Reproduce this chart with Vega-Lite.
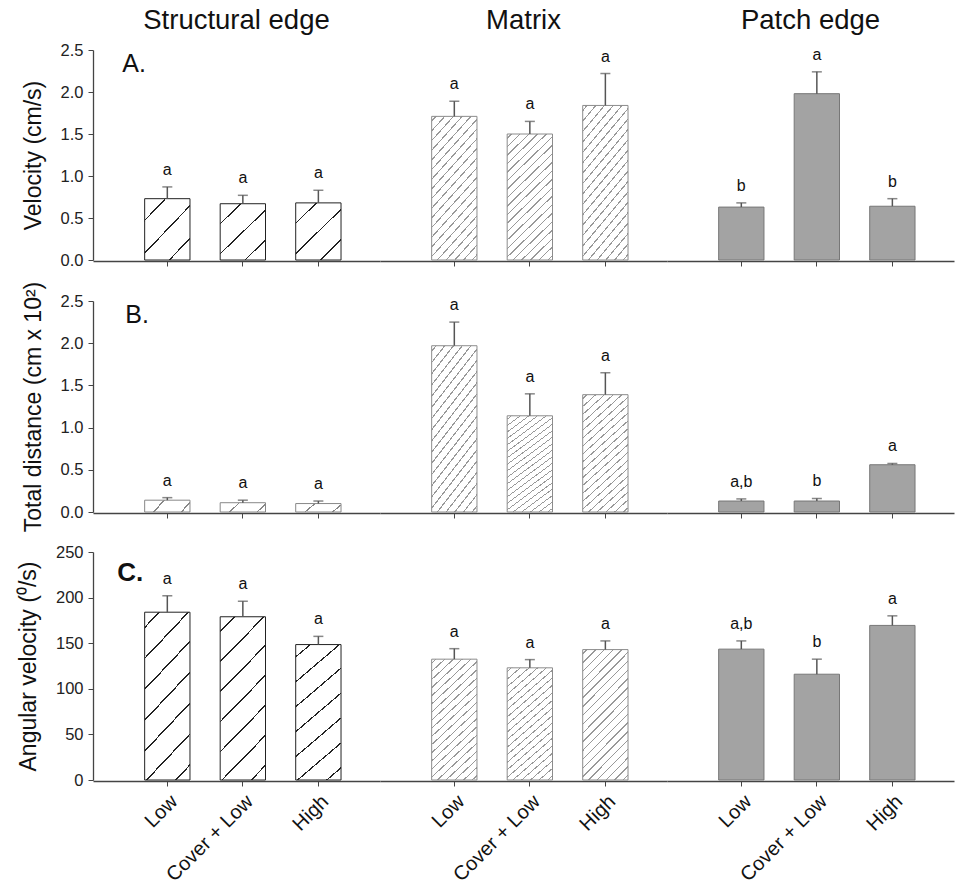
{
  "$schema": "https://vega.github.io/schema/vega-lite/v6.json",
  "padding": {"left": 17, "right": 4, "top": 6, "bottom": 2},
  "config": {
    "font": "Liberation Sans",
    "view": {"stroke": null},
    "axis": {"grid": false, "domainColor": "#444", "domainWidth": 1.3, "tickColor": "#444", "labelColor": "#222", "labelFontSize": 16.5, "titleFontSize": 23, "titleFontWeight": "normal", "titleColor": "#111", "labelPadding": 5, "tickSize": 5, "titlePadding": 15},
    "text": {"font": "Liberation Sans"}
  },
  "datasets": {
    "d": [
      {"panel": "A", "group": "Structural edge", "treatment": "Low", "mean": 0.73, "upper": 0.87, "sig": "a"},
      {"panel": "A", "group": "Structural edge", "treatment": "Cover + Low", "mean": 0.67, "upper": 0.77, "sig": "a"},
      {"panel": "A", "group": "Structural edge", "treatment": "High", "mean": 0.68, "upper": 0.83, "sig": "a"},
      {"panel": "A", "group": "Matrix", "treatment": "Low", "mean": 1.71, "upper": 1.89, "sig": "a"},
      {"panel": "A", "group": "Matrix", "treatment": "Cover + Low", "mean": 1.5, "upper": 1.65, "sig": "a"},
      {"panel": "A", "group": "Matrix", "treatment": "High", "mean": 1.84, "upper": 2.22, "sig": "a"},
      {"panel": "A", "group": "Patch edge", "treatment": "Low", "mean": 0.63, "upper": 0.68, "sig": "b"},
      {"panel": "A", "group": "Patch edge", "treatment": "Cover + Low", "mean": 1.98, "upper": 2.24, "sig": "a"},
      {"panel": "A", "group": "Patch edge", "treatment": "High", "mean": 0.64, "upper": 0.73, "sig": "b"},
      {"panel": "B", "group": "Structural edge", "treatment": "Low", "mean": 0.14, "upper": 0.17, "sig": "a"},
      {"panel": "B", "group": "Structural edge", "treatment": "Cover + Low", "mean": 0.11, "upper": 0.14, "sig": "a"},
      {"panel": "B", "group": "Structural edge", "treatment": "High", "mean": 0.1, "upper": 0.13, "sig": "a"},
      {"panel": "B", "group": "Matrix", "treatment": "Low", "mean": 1.97, "upper": 2.25, "sig": "a"},
      {"panel": "B", "group": "Matrix", "treatment": "Cover + Low", "mean": 1.14, "upper": 1.4, "sig": "a"},
      {"panel": "B", "group": "Matrix", "treatment": "High", "mean": 1.39, "upper": 1.65, "sig": "a"},
      {"panel": "B", "group": "Patch edge", "treatment": "Low", "mean": 0.13, "upper": 0.155, "sig": "a,b"},
      {"panel": "B", "group": "Patch edge", "treatment": "Cover + Low", "mean": 0.13, "upper": 0.16, "sig": "b"},
      {"panel": "B", "group": "Patch edge", "treatment": "High", "mean": 0.56, "upper": 0.575, "sig": "a"},
      {"panel": "C", "group": "Structural edge", "treatment": "Low", "mean": 184, "upper": 202, "sig": "a"},
      {"panel": "C", "group": "Structural edge", "treatment": "Cover + Low", "mean": 179, "upper": 196, "sig": "a"},
      {"panel": "C", "group": "Structural edge", "treatment": "High", "mean": 148.5, "upper": 157.5, "sig": "a"},
      {"panel": "C", "group": "Matrix", "treatment": "Low", "mean": 132.5, "upper": 144, "sig": "a"},
      {"panel": "C", "group": "Matrix", "treatment": "Cover + Low", "mean": 123, "upper": 132, "sig": "a"},
      {"panel": "C", "group": "Matrix", "treatment": "High", "mean": 143, "upper": 152.5, "sig": "a"},
      {"panel": "C", "group": "Patch edge", "treatment": "Low", "mean": 143.5, "upper": 152.5, "sig": "a,b"},
      {"panel": "C", "group": "Patch edge", "treatment": "Cover + Low", "mean": 116, "upper": 132.5, "sig": "b"},
      {"panel": "C", "group": "Patch edge", "treatment": "High", "mean": 169.5, "upper": 180, "sig": "a"}
    ]
  },
  "spacing": 12,
  "vconcat": [
    {
      "data": {"name": "d"},
      "transform": [{"filter": "datum.panel === 'A'"}],
      "facet": {"column": {"field": "group", "type": "nominal", "sort": ["Structural edge", "Matrix", "Patch edge"], "header": {"title": null, "labelFontSize": 27.5, "labelPadding": 12, "labelColor": "#111", "labelFont": "Liberation Sans"}}},
      "spacing": 0,
      "spec": {
        "width": 287,
        "height": 210,
        "encoding": {
          "x": {"field": "treatment", "type": "nominal", "sort": ["Low", "Cover + Low", "High"], "scale": {"paddingInner": 0.4, "paddingOuter": 0.6, "align": 0.57}, "axis": {"title": null, "labels": false}},
          "y": {"field": "mean", "type": "quantitative", "title": "Velocity (cm/s)", "scale": {"domain": [0, 2.5]}, "axis": {"values": [0, 0.5, 1, 1.5, 2, 2.5], "format": ".1f"}}
        },
        "layer": [
          {"transform": [{"filter": "datum.group === 'Structural edge'"}], "mark": {"type": "bar", "stroke": "#222", "strokeWidth": 1, "fill": {"gradient": "linear", "x1": 0, "y1": 0, "x2": 0.86, "y2": 1.11, "stops": [{"offset": 0, "color": "#fff"}, {"offset": 0.192, "color": "#fff"}, {"offset": 0.192, "color": "#222"}, {"offset": 0.208, "color": "#222"}, {"offset": 0.208, "color": "#fff"}, {"offset": 0.492, "color": "#fff"}, {"offset": 0.492, "color": "#222"}, {"offset": 0.508, "color": "#222"}, {"offset": 0.508, "color": "#fff"}, {"offset": 0.792, "color": "#fff"}, {"offset": 0.792, "color": "#222"}, {"offset": 0.808, "color": "#222"}, {"offset": 0.808, "color": "#fff"}, {"offset": 1, "color": "#fff"}]}}},
          {"transform": [{"filter": "datum.group === 'Matrix'"}], "mark": {"type": "bar", "stroke": "#8c8c8c", "strokeWidth": 1, "fill": {"gradient": "linear", "x1": 0, "y1": 0, "x2": 0.42, "y2": 1.2, "stops": [{"offset": 0, "color": "#fff"}, {"offset": 0.021, "color": "#fff"}, {"offset": 0.021, "color": "#999"}, {"offset": 0.029, "color": "#999"}, {"offset": 0.029, "color": "#fff"}, {"offset": 0.071, "color": "#fff"}, {"offset": 0.071, "color": "#999"}, {"offset": 0.079, "color": "#999"}, {"offset": 0.079, "color": "#fff"}, {"offset": 0.121, "color": "#fff"}, {"offset": 0.121, "color": "#999"}, {"offset": 0.129, "color": "#999"}, {"offset": 0.129, "color": "#fff"}, {"offset": 0.171, "color": "#fff"}, {"offset": 0.171, "color": "#999"}, {"offset": 0.179, "color": "#999"}, {"offset": 0.179, "color": "#fff"}, {"offset": 0.221, "color": "#fff"}, {"offset": 0.221, "color": "#999"}, {"offset": 0.229, "color": "#999"}, {"offset": 0.229, "color": "#fff"}, {"offset": 0.271, "color": "#fff"}, {"offset": 0.271, "color": "#999"}, {"offset": 0.279, "color": "#999"}, {"offset": 0.279, "color": "#fff"}, {"offset": 0.321, "color": "#fff"}, {"offset": 0.321, "color": "#999"}, {"offset": 0.329, "color": "#999"}, {"offset": 0.329, "color": "#fff"}, {"offset": 0.371, "color": "#fff"}, {"offset": 0.371, "color": "#999"}, {"offset": 0.379, "color": "#999"}, {"offset": 0.379, "color": "#fff"}, {"offset": 0.421, "color": "#fff"}, {"offset": 0.421, "color": "#999"}, {"offset": 0.429, "color": "#999"}, {"offset": 0.429, "color": "#fff"}, {"offset": 0.471, "color": "#fff"}, {"offset": 0.471, "color": "#999"}, {"offset": 0.479, "color": "#999"}, {"offset": 0.479, "color": "#fff"}, {"offset": 0.521, "color": "#fff"}, {"offset": 0.521, "color": "#999"}, {"offset": 0.529, "color": "#999"}, {"offset": 0.529, "color": "#fff"}, {"offset": 0.571, "color": "#fff"}, {"offset": 0.571, "color": "#999"}, {"offset": 0.579, "color": "#999"}, {"offset": 0.579, "color": "#fff"}, {"offset": 0.621, "color": "#fff"}, {"offset": 0.621, "color": "#999"}, {"offset": 0.629, "color": "#999"}, {"offset": 0.629, "color": "#fff"}, {"offset": 0.671, "color": "#fff"}, {"offset": 0.671, "color": "#999"}, {"offset": 0.679, "color": "#999"}, {"offset": 0.679, "color": "#fff"}, {"offset": 0.721, "color": "#fff"}, {"offset": 0.721, "color": "#999"}, {"offset": 0.729, "color": "#999"}, {"offset": 0.729, "color": "#fff"}, {"offset": 0.771, "color": "#fff"}, {"offset": 0.771, "color": "#999"}, {"offset": 0.779, "color": "#999"}, {"offset": 0.779, "color": "#fff"}, {"offset": 0.821, "color": "#fff"}, {"offset": 0.821, "color": "#999"}, {"offset": 0.829, "color": "#999"}, {"offset": 0.829, "color": "#fff"}, {"offset": 0.871, "color": "#fff"}, {"offset": 0.871, "color": "#999"}, {"offset": 0.879, "color": "#999"}, {"offset": 0.879, "color": "#fff"}, {"offset": 0.921, "color": "#fff"}, {"offset": 0.921, "color": "#999"}, {"offset": 0.929, "color": "#999"}, {"offset": 0.929, "color": "#fff"}, {"offset": 0.971, "color": "#fff"}, {"offset": 0.971, "color": "#999"}, {"offset": 0.979, "color": "#999"}, {"offset": 0.979, "color": "#fff"}, {"offset": 1, "color": "#fff"}]}}},
          {"transform": [{"filter": "datum.group === 'Patch edge'"}], "mark": {"type": "bar", "fill": "#a3a3a3", "stroke": "#777", "strokeWidth": 1}},
          {"mark": {"type": "rule", "color": "#555", "strokeWidth": 1.5}, "encoding": {"y2": {"field": "upper"}}},
          {"mark": {"type": "tick", "color": "#555", "size": 10, "thickness": 1.5}, "encoding": {"y": {"field": "upper", "type": "quantitative", "title": "Velocity (cm/s)"}}},
          {"mark": {"type": "text", "baseline": "alphabetic", "dy": -12, "fontSize": 16, "color": "#111"}, "encoding": {"y": {"field": "upper", "type": "quantitative", "title": "Velocity (cm/s)"}, "text": {"field": "sig"}}},
          {"transform": [{"filter": "datum.group === 'Structural edge' && datum.treatment === 'Low'"}], "mark": {"type": "text", "text": "A.", "align": "left", "baseline": "top", "dx": -45, "dy": 2, "fontSize": 25, "color": "#111"}, "encoding": {"y": {"datum": 2.5, "title": "Velocity (cm/s)"}}}
        ]
      }
    },
    {
      "data": {"name": "d"},
      "transform": [{"filter": "datum.panel === 'B'"}],
      "facet": {"column": {"field": "group", "type": "nominal", "sort": ["Structural edge", "Matrix", "Patch edge"], "header": {"title": null, "labels": false}}},
      "spacing": 0,
      "spec": {
        "width": 287,
        "height": 211,
        "encoding": {
          "x": {"field": "treatment", "type": "nominal", "sort": ["Low", "Cover + Low", "High"], "scale": {"paddingInner": 0.4, "paddingOuter": 0.6, "align": 0.57}, "axis": {"title": null, "labels": false}},
          "y": {"field": "mean", "type": "quantitative", "title": "Total distance (cm x 10²)", "scale": {"domain": [0, 2.5]}, "axis": {"values": [0, 0.5, 1, 1.5, 2, 2.5], "format": ".1f"}}
        },
        "layer": [
          {"transform": [{"filter": "datum.group === 'Structural edge'"}], "mark": {"type": "bar", "stroke": "#888", "strokeWidth": 1, "fill": {"gradient": "linear", "x1": 0, "y1": 0, "x2": 1.16, "y2": 0.26, "stops": [{"offset": 0, "color": "#fff"}, {"offset": 0.335, "color": "#fff"}, {"offset": 0.335, "color": "#888"}, {"offset": 0.365, "color": "#888"}, {"offset": 0.365, "color": "#fff"}, {"offset": 0.835, "color": "#fff"}, {"offset": 0.835, "color": "#888"}, {"offset": 0.865, "color": "#888"}, {"offset": 0.865, "color": "#fff"}, {"offset": 1, "color": "#fff"}]}}},
          {"transform": [{"filter": "datum.group === 'Matrix'"}], "mark": {"type": "bar", "stroke": "#8c8c8c", "strokeWidth": 1, "fill": {"gradient": "linear", "x1": 0, "y1": 0, "x2": 0.42, "y2": 1.2, "stops": [{"offset": 0, "color": "#fff"}, {"offset": 0.021, "color": "#fff"}, {"offset": 0.021, "color": "#999"}, {"offset": 0.029, "color": "#999"}, {"offset": 0.029, "color": "#fff"}, {"offset": 0.071, "color": "#fff"}, {"offset": 0.071, "color": "#999"}, {"offset": 0.079, "color": "#999"}, {"offset": 0.079, "color": "#fff"}, {"offset": 0.121, "color": "#fff"}, {"offset": 0.121, "color": "#999"}, {"offset": 0.129, "color": "#999"}, {"offset": 0.129, "color": "#fff"}, {"offset": 0.171, "color": "#fff"}, {"offset": 0.171, "color": "#999"}, {"offset": 0.179, "color": "#999"}, {"offset": 0.179, "color": "#fff"}, {"offset": 0.221, "color": "#fff"}, {"offset": 0.221, "color": "#999"}, {"offset": 0.229, "color": "#999"}, {"offset": 0.229, "color": "#fff"}, {"offset": 0.271, "color": "#fff"}, {"offset": 0.271, "color": "#999"}, {"offset": 0.279, "color": "#999"}, {"offset": 0.279, "color": "#fff"}, {"offset": 0.321, "color": "#fff"}, {"offset": 0.321, "color": "#999"}, {"offset": 0.329, "color": "#999"}, {"offset": 0.329, "color": "#fff"}, {"offset": 0.371, "color": "#fff"}, {"offset": 0.371, "color": "#999"}, {"offset": 0.379, "color": "#999"}, {"offset": 0.379, "color": "#fff"}, {"offset": 0.421, "color": "#fff"}, {"offset": 0.421, "color": "#999"}, {"offset": 0.429, "color": "#999"}, {"offset": 0.429, "color": "#fff"}, {"offset": 0.471, "color": "#fff"}, {"offset": 0.471, "color": "#999"}, {"offset": 0.479, "color": "#999"}, {"offset": 0.479, "color": "#fff"}, {"offset": 0.521, "color": "#fff"}, {"offset": 0.521, "color": "#999"}, {"offset": 0.529, "color": "#999"}, {"offset": 0.529, "color": "#fff"}, {"offset": 0.571, "color": "#fff"}, {"offset": 0.571, "color": "#999"}, {"offset": 0.579, "color": "#999"}, {"offset": 0.579, "color": "#fff"}, {"offset": 0.621, "color": "#fff"}, {"offset": 0.621, "color": "#999"}, {"offset": 0.629, "color": "#999"}, {"offset": 0.629, "color": "#fff"}, {"offset": 0.671, "color": "#fff"}, {"offset": 0.671, "color": "#999"}, {"offset": 0.679, "color": "#999"}, {"offset": 0.679, "color": "#fff"}, {"offset": 0.721, "color": "#fff"}, {"offset": 0.721, "color": "#999"}, {"offset": 0.729, "color": "#999"}, {"offset": 0.729, "color": "#fff"}, {"offset": 0.771, "color": "#fff"}, {"offset": 0.771, "color": "#999"}, {"offset": 0.779, "color": "#999"}, {"offset": 0.779, "color": "#fff"}, {"offset": 0.821, "color": "#fff"}, {"offset": 0.821, "color": "#999"}, {"offset": 0.829, "color": "#999"}, {"offset": 0.829, "color": "#fff"}, {"offset": 0.871, "color": "#fff"}, {"offset": 0.871, "color": "#999"}, {"offset": 0.879, "color": "#999"}, {"offset": 0.879, "color": "#fff"}, {"offset": 0.921, "color": "#fff"}, {"offset": 0.921, "color": "#999"}, {"offset": 0.929, "color": "#999"}, {"offset": 0.929, "color": "#fff"}, {"offset": 0.971, "color": "#fff"}, {"offset": 0.971, "color": "#999"}, {"offset": 0.979, "color": "#999"}, {"offset": 0.979, "color": "#fff"}, {"offset": 1, "color": "#fff"}]}}},
          {"transform": [{"filter": "datum.group === 'Patch edge'"}], "mark": {"type": "bar", "fill": "#a3a3a3", "stroke": "#777", "strokeWidth": 1}},
          {"mark": {"type": "rule", "color": "#555", "strokeWidth": 1.5}, "encoding": {"y2": {"field": "upper"}}},
          {"mark": {"type": "tick", "color": "#555", "size": 10, "thickness": 1.5}, "encoding": {"y": {"field": "upper", "type": "quantitative", "title": "Total distance (cm x 10²)"}}},
          {"mark": {"type": "text", "baseline": "alphabetic", "dy": -12, "fontSize": 16, "color": "#111"}, "encoding": {"y": {"field": "upper", "type": "quantitative", "title": "Total distance (cm x 10²)"}, "text": {"field": "sig"}}},
          {"transform": [{"filter": "datum.group === 'Structural edge' && datum.treatment === 'Low'"}], "mark": {"type": "text", "text": "B.", "align": "left", "baseline": "top", "dx": -42, "dy": 2, "fontSize": 25, "color": "#111"}, "encoding": {"y": {"datum": 2.5, "title": "Total distance (cm x 10²)"}}}
        ]
      }
    },
    {
      "data": {"name": "d"},
      "transform": [{"filter": "datum.panel === 'C'"}],
      "facet": {"column": {"field": "group", "type": "nominal", "sort": ["Structural edge", "Matrix", "Patch edge"], "header": {"title": null, "labels": false}}},
      "spacing": 0,
      "spec": {
        "width": 287,
        "height": 228,
        "encoding": {
          "x": {"field": "treatment", "type": "nominal", "sort": ["Low", "Cover + Low", "High"], "scale": {"paddingInner": 0.4, "paddingOuter": 0.6, "align": 0.57}, "axis": {"title": null, "labelAngle": -45, "labelFontSize": 20, "labelColor": "#111"}},
          "y": {"field": "mean", "type": "quantitative", "title": "Angular velocity (⁰/s)", "scale": {"domain": [0, 250]}, "axis": {"values": [0, 50, 100, 150, 200, 250]}}
        },
        "layer": [
          {"transform": [{"filter": "datum.group === 'Structural edge'"}], "mark": {"type": "bar", "stroke": "#222", "strokeWidth": 1, "fill": {"gradient": "linear", "x1": 0, "y1": 0, "x2": 0.34, "y2": 1.19, "stops": [{"offset": 0, "color": "#fff"}, {"offset": 0.0665, "color": "#fff"}, {"offset": 0.0665, "color": "#222"}, {"offset": 0.0755, "color": "#222"}, {"offset": 0.0755, "color": "#fff"}, {"offset": 0.2095, "color": "#fff"}, {"offset": 0.2095, "color": "#222"}, {"offset": 0.2185, "color": "#222"}, {"offset": 0.2185, "color": "#fff"}, {"offset": 0.3525, "color": "#fff"}, {"offset": 0.3525, "color": "#222"}, {"offset": 0.3615, "color": "#222"}, {"offset": 0.3615, "color": "#fff"}, {"offset": 0.4955, "color": "#fff"}, {"offset": 0.4955, "color": "#222"}, {"offset": 0.5045, "color": "#222"}, {"offset": 0.5045, "color": "#fff"}, {"offset": 0.6385, "color": "#fff"}, {"offset": 0.6385, "color": "#222"}, {"offset": 0.6475, "color": "#222"}, {"offset": 0.6475, "color": "#fff"}, {"offset": 0.7815, "color": "#fff"}, {"offset": 0.7815, "color": "#222"}, {"offset": 0.7905, "color": "#222"}, {"offset": 0.7905, "color": "#fff"}, {"offset": 0.9245, "color": "#fff"}, {"offset": 0.9245, "color": "#222"}, {"offset": 0.9335, "color": "#222"}, {"offset": 0.9335, "color": "#fff"}, {"offset": 1, "color": "#fff"}]}}},
          {"transform": [{"filter": "datum.group === 'Matrix'"}], "mark": {"type": "bar", "stroke": "#8c8c8c", "strokeWidth": 1, "fill": {"gradient": "linear", "x1": 0, "y1": 0, "x2": 0.42, "y2": 1.2, "stops": [{"offset": 0, "color": "#fff"}, {"offset": 0.021, "color": "#fff"}, {"offset": 0.021, "color": "#999"}, {"offset": 0.029, "color": "#999"}, {"offset": 0.029, "color": "#fff"}, {"offset": 0.071, "color": "#fff"}, {"offset": 0.071, "color": "#999"}, {"offset": 0.079, "color": "#999"}, {"offset": 0.079, "color": "#fff"}, {"offset": 0.121, "color": "#fff"}, {"offset": 0.121, "color": "#999"}, {"offset": 0.129, "color": "#999"}, {"offset": 0.129, "color": "#fff"}, {"offset": 0.171, "color": "#fff"}, {"offset": 0.171, "color": "#999"}, {"offset": 0.179, "color": "#999"}, {"offset": 0.179, "color": "#fff"}, {"offset": 0.221, "color": "#fff"}, {"offset": 0.221, "color": "#999"}, {"offset": 0.229, "color": "#999"}, {"offset": 0.229, "color": "#fff"}, {"offset": 0.271, "color": "#fff"}, {"offset": 0.271, "color": "#999"}, {"offset": 0.279, "color": "#999"}, {"offset": 0.279, "color": "#fff"}, {"offset": 0.321, "color": "#fff"}, {"offset": 0.321, "color": "#999"}, {"offset": 0.329, "color": "#999"}, {"offset": 0.329, "color": "#fff"}, {"offset": 0.371, "color": "#fff"}, {"offset": 0.371, "color": "#999"}, {"offset": 0.379, "color": "#999"}, {"offset": 0.379, "color": "#fff"}, {"offset": 0.421, "color": "#fff"}, {"offset": 0.421, "color": "#999"}, {"offset": 0.429, "color": "#999"}, {"offset": 0.429, "color": "#fff"}, {"offset": 0.471, "color": "#fff"}, {"offset": 0.471, "color": "#999"}, {"offset": 0.479, "color": "#999"}, {"offset": 0.479, "color": "#fff"}, {"offset": 0.521, "color": "#fff"}, {"offset": 0.521, "color": "#999"}, {"offset": 0.529, "color": "#999"}, {"offset": 0.529, "color": "#fff"}, {"offset": 0.571, "color": "#fff"}, {"offset": 0.571, "color": "#999"}, {"offset": 0.579, "color": "#999"}, {"offset": 0.579, "color": "#fff"}, {"offset": 0.621, "color": "#fff"}, {"offset": 0.621, "color": "#999"}, {"offset": 0.629, "color": "#999"}, {"offset": 0.629, "color": "#fff"}, {"offset": 0.671, "color": "#fff"}, {"offset": 0.671, "color": "#999"}, {"offset": 0.679, "color": "#999"}, {"offset": 0.679, "color": "#fff"}, {"offset": 0.721, "color": "#fff"}, {"offset": 0.721, "color": "#999"}, {"offset": 0.729, "color": "#999"}, {"offset": 0.729, "color": "#fff"}, {"offset": 0.771, "color": "#fff"}, {"offset": 0.771, "color": "#999"}, {"offset": 0.779, "color": "#999"}, {"offset": 0.779, "color": "#fff"}, {"offset": 0.821, "color": "#fff"}, {"offset": 0.821, "color": "#999"}, {"offset": 0.829, "color": "#999"}, {"offset": 0.829, "color": "#fff"}, {"offset": 0.871, "color": "#fff"}, {"offset": 0.871, "color": "#999"}, {"offset": 0.879, "color": "#999"}, {"offset": 0.879, "color": "#fff"}, {"offset": 0.921, "color": "#fff"}, {"offset": 0.921, "color": "#999"}, {"offset": 0.929, "color": "#999"}, {"offset": 0.929, "color": "#fff"}, {"offset": 0.971, "color": "#fff"}, {"offset": 0.971, "color": "#999"}, {"offset": 0.979, "color": "#999"}, {"offset": 0.979, "color": "#fff"}, {"offset": 1, "color": "#fff"}]}}},
          {"transform": [{"filter": "datum.group === 'Patch edge'"}], "mark": {"type": "bar", "fill": "#a3a3a3", "stroke": "#777", "strokeWidth": 1}},
          {"mark": {"type": "rule", "color": "#555", "strokeWidth": 1.5}, "encoding": {"y2": {"field": "upper"}}},
          {"mark": {"type": "tick", "color": "#555", "size": 10, "thickness": 1.5}, "encoding": {"y": {"field": "upper", "type": "quantitative", "title": "Angular velocity (⁰/s)"}}},
          {"mark": {"type": "text", "baseline": "alphabetic", "dy": -12, "fontSize": 16, "color": "#111"}, "encoding": {"y": {"field": "upper", "type": "quantitative", "title": "Angular velocity (⁰/s)"}, "text": {"field": "sig"}}},
          {"transform": [{"filter": "datum.group === 'Structural edge' && datum.treatment === 'Low'"}], "mark": {"type": "text", "text": "C.", "align": "left", "baseline": "top", "dx": -50, "dy": 8, "fontSize": 26, "fontWeight": "bold", "color": "#111"}, "encoding": {"y": {"datum": 250, "title": "Angular velocity (⁰/s)"}}}
        ]
      }
    }
  ]
}
